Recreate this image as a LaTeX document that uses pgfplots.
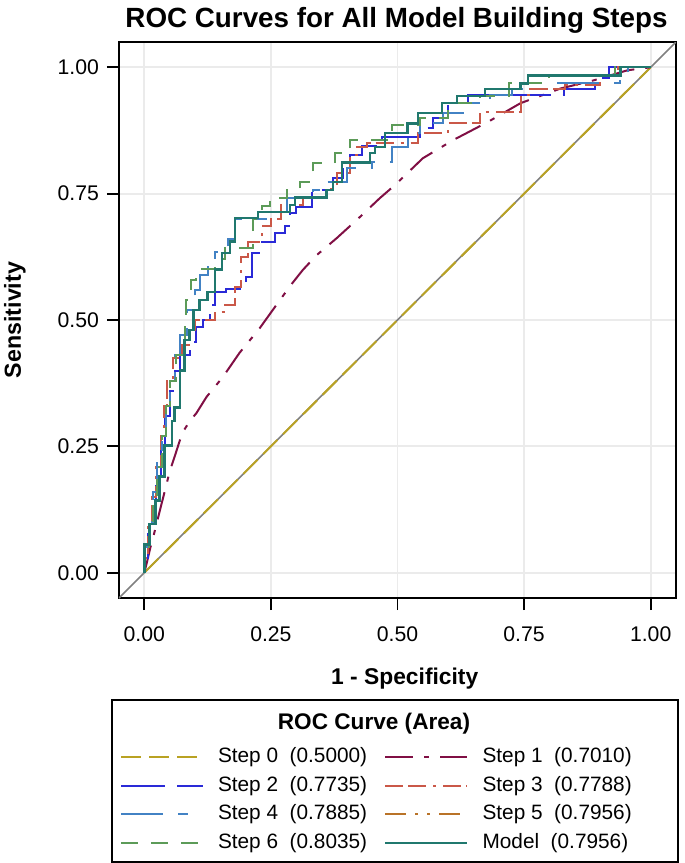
\documentclass[border=0pt]{standalone}
\usepackage{pgfplots}
\pgfplotsset{compat=1.18}
\usepackage{fontspec}
\setmainfont{Liberation Sans}
\definecolor{cS0}{RGB}{185,162,35}
\definecolor{cS1}{RGB}{128,15,68}
\definecolor{cS2}{RGB}{42,42,215}
\definecolor{cS3}{RGB}{202,88,72}
\definecolor{cS4}{RGB}{66,130,196}
\definecolor{cS5}{RGB}{185,115,40}
\definecolor{cS6}{RGB}{92,155,88}
\definecolor{cM}{RGB}{32,120,110}
\begin{document}
\begin{tikzpicture}
\useasboundingbox (-59.5pt,-132.5pt) rectangle (283pt,299pt);
\begin{axis}[
  at={(0,0)}, anchor=south west,
  scale only axis, width=278.5pt, height=278pt,
  xmin=-0.05, xmax=1.05, ymin=-0.05, ymax=1.05,
  xtick={0,0.25,0.5,0.75,1}, ytick={0,0.25,0.5,0.75,1},
  xticklabels={0.00,0.25,0.50,0.75,1.00}, yticklabels={0.00,0.25,0.50,0.75,1.00},
  tick pos=left, tick align=outside, major tick length=6pt,
  every tick/.style={black, line width=0.9pt},
  ticklabel style={font=\fontsize{10.6}{12}\selectfont},
  xticklabel style={yshift=-5pt},
  yticklabel style={xshift=-0.5pt},
  grid=major, major grid style={draw=black!8, line width=0.9pt},
  axis line style={line width=1pt},
  xlabel={1 - Specificity},
  ylabel={Sensitivity},
  every axis x label/.style={at={(axis description cs:0.513,-0.1547)}, anchor=base, font=\fontsize{11.4}{13}\selectfont\bfseries},
  every axis y label/.style={at={(axis description cs:-0.176,0.5)}, rotate=90, anchor=base, font=\fontsize{11.6}{13}\selectfont\bfseries},
  legend columns=2,
  legend cell align=left,
  legend style={at={(axis description cs:0.0018,-0.2687)}, anchor=north west, draw=none, fill=none,
    inner sep=0pt, outer sep=0pt, font=\fontsize{10.4}{12}\selectfont,
    row sep=4.83pt, column sep=7pt,
    /tikz/every even column/.append style={column sep=8.5pt},
    nodes={inner sep=0pt, text height=7.5pt, text depth=2pt}},
  legend image code/.code={\draw[#1] (0pt,0pt) -- (41pt,0pt);},
]
\addplot[forget plot, color=gray, line width=0.8pt] coordinates {(-0.05,-0.05) (1.05,1.05)};
% Step 0
\addplot[cS0, line width=1pt, dash pattern=on 10pt off 4pt] coordinates {(0,0) (1,1)};
\addlegendentry{Step 0~~(0.5000)}
% Step 1
\addplot[cS1, line width=1pt, dash pattern=on 14pt off 5.5pt on 2.5pt off 5.5pt] coordinates {
(0,0) (0.005,0.02) (0.012,0.05) (0.02,0.08) (0.03,0.12) (0.04,0.16) (0.05,0.2) (0.06,0.23) (0.075,0.277) (0.09,0.3) (0.103,0.316) (0.123,0.348) (0.155,0.387) (0.188,0.435) (0.228,0.484) (0.261,0.53) (0.29,0.57) (0.313,0.599) (0.34,0.628) (0.38,0.662) (0.426,0.704) (0.465,0.741) (0.495,0.767) (0.55,0.82) (0.61,0.856) (0.677,0.891) (0.743,0.929) (0.822,0.958) (0.887,0.974) (0.954,0.994) (1,1)};
\addlegendentry{Step 1~~(0.7010)}
% Step 2
\addplot[cS2, line width=1pt, dash pattern=on 22pt off 6pt] coordinates {
(0,0) (0,0.03) (0.008,0.03) (0.008,0.08) (0.016,0.08) (0.016,0.13) (0.024,0.13) (0.024,0.19) (0.032,0.19) (0.032,0.25) (0.04,0.25) (0.04,0.31) (0.05,0.31) (0.05,0.36) (0.06,0.36) (0.06,0.40) (0.07,0.40) (0.07,0.43) (0.09,0.43) (0.09,0.456) (0.103,0.456) (0.103,0.486) (0.115,0.486) (0.115,0.50) (0.129,0.50) (0.129,0.53) (0.139,0.53) (0.139,0.556) (0.162,0.556) (0.162,0.562) (0.188,0.562) (0.188,0.57) (0.2,0.57) (0.2,0.585) (0.212,0.585) (0.212,0.633) (0.232,0.633) (0.232,0.655) (0.258,0.655) (0.258,0.673) (0.278,0.673) (0.278,0.685) (0.288,0.685) (0.288,0.712) (0.3,0.712) (0.3,0.724) (0.331,0.724) (0.331,0.757) (0.373,0.757) (0.373,0.78) (0.393,0.78) (0.393,0.81) (0.406,0.81) (0.406,0.826) (0.43,0.826) (0.43,0.845) (0.47,0.845) (0.47,0.862) (0.545,0.862) (0.545,0.88) (0.57,0.88) (0.57,0.9) (0.6,0.9) (0.6,0.93) (0.64,0.93) (0.64,0.945) (0.828,0.945) (0.828,0.958) (0.89,0.958) (0.89,0.978) (0.917,0.978) (0.917,1) (1,1)};
\addlegendentry{Step 2~~(0.7735)}
% Step 3
\addplot[cS3, line width=1pt, dash pattern=on 9pt off 2.5pt on 9pt off 3.5pt on 1.5pt off 3.5pt] coordinates {
(0,0) (0,0.03) (0.008,0.03) (0.008,0.09) (0.016,0.09) (0.016,0.15) (0.024,0.15) (0.024,0.21) (0.032,0.21) (0.032,0.27) (0.038,0.27) (0.038,0.33) (0.045,0.33) (0.045,0.38) (0.056,0.38) (0.056,0.425) (0.075,0.425) (0.075,0.45) (0.09,0.45) (0.09,0.48) (0.1,0.48) (0.1,0.50) (0.139,0.50) (0.139,0.516) (0.16,0.516) (0.16,0.53) (0.18,0.53) (0.18,0.565) (0.19,0.565) (0.19,0.625) (0.205,0.625) (0.205,0.655) (0.232,0.655) (0.232,0.685) (0.25,0.685) (0.25,0.70) (0.27,0.70) (0.27,0.727) (0.313,0.727) (0.313,0.742) (0.36,0.742) (0.36,0.76) (0.38,0.76) (0.38,0.79) (0.406,0.79) (0.406,0.826) (0.42,0.826) (0.42,0.842) (0.44,0.842) (0.44,0.85) (0.54,0.85) (0.54,0.87) (0.6,0.87) (0.6,0.889) (0.663,0.889) (0.663,0.911) (0.743,0.911) (0.743,0.945) (0.762,0.945) (0.762,0.958) (0.83,0.958) (0.83,0.965) (0.9,0.965) (0.9,0.985) (0.935,0.985) (0.935,1) (1,1)};
\addlegendentry{Step 3~~(0.7788)}
% Step 4
\addplot[cS4, line width=1pt, dash pattern=on 21pt off 7.5pt on 5pt off 7.5pt] coordinates {
(0,0) (0,0.05) (0.01,0.05) (0.01,0.1) (0.018,0.1) (0.018,0.16) (0.026,0.16) (0.026,0.22) (0.034,0.22) (0.034,0.28) (0.042,0.28) (0.042,0.33) (0.05,0.33) (0.05,0.38) (0.06,0.38) (0.06,0.43) (0.07,0.43) (0.07,0.47) (0.085,0.47) (0.085,0.52) (0.1,0.52) (0.1,0.56) (0.11,0.56) (0.11,0.59) (0.125,0.59) (0.125,0.62) (0.14,0.62) (0.14,0.635) (0.165,0.635) (0.165,0.66) (0.18,0.66) (0.18,0.70) (0.25,0.70) (0.25,0.714) (0.282,0.714) (0.282,0.742) (0.333,0.742) (0.333,0.758) (0.357,0.758) (0.357,0.773) (0.4,0.773) (0.4,0.80) (0.45,0.80) (0.45,0.812) (0.49,0.812) (0.49,0.842) (0.52,0.842) (0.52,0.87) (0.545,0.87) (0.545,0.889) (0.59,0.889) (0.59,0.91) (0.64,0.91) (0.64,0.929) (0.683,0.929) (0.683,0.945) (0.727,0.945) (0.727,0.957) (0.76,0.957) (0.76,0.968) (0.94,0.968) (0.94,0.985) (0.955,0.985) (0.955,1) (1,1)};
\addlegendentry{Step 4~~(0.7885)}
% Step 5 (same as final model)
\addplot[cS5, line width=1pt, dash pattern=on 10.5pt off 4.5pt on 1.5pt off 4.5pt on 1.5pt off 4.5pt] coordinates {
(0,0) (0,0.056) (0.01,0.056) (0.01,0.097) (0.022,0.097) (0.022,0.143) (0.03,0.143) (0.03,0.19) (0.04,0.19) (0.04,0.252) (0.055,0.252) (0.055,0.30) (0.06,0.30) (0.06,0.327) (0.07,0.327) (0.07,0.40) (0.079,0.40) (0.079,0.46) (0.089,0.46) (0.089,0.48) (0.097,0.48) (0.097,0.52) (0.109,0.52) (0.109,0.54) (0.125,0.54) (0.125,0.555) (0.139,0.555) (0.139,0.60) (0.153,0.60) (0.153,0.633) (0.169,0.633) (0.169,0.655) (0.179,0.655) (0.179,0.702) (0.224,0.702) (0.224,0.714) (0.288,0.714) (0.288,0.728) (0.298,0.728) (0.298,0.742) (0.36,0.742) (0.36,0.757) (0.373,0.757) (0.373,0.773) (0.39,0.773) (0.39,0.812) (0.446,0.812) (0.446,0.83) (0.455,0.83) (0.455,0.842) (0.475,0.842) (0.475,0.87) (0.52,0.87) (0.52,0.889) (0.54,0.889) (0.54,0.909) (0.588,0.909) (0.588,0.929) (0.618,0.929) (0.618,0.943) (0.673,0.943) (0.673,0.957) (0.743,0.957) (0.743,0.968) (0.758,0.968) (0.758,0.984) (0.94,0.984) (0.94,1) (1,1)};
\addlegendentry{Step 5~~(0.7956)}
% Step 6
\addplot[cS6, line width=1pt, dash pattern=on 8.5pt off 6.5pt] coordinates {
(0,0) (0,0.04) (0.01,0.04) (0.01,0.09) (0.018,0.09) (0.018,0.15) (0.026,0.15) (0.026,0.21) (0.034,0.21) (0.034,0.27) (0.042,0.27) (0.042,0.33) (0.05,0.33) (0.05,0.38) (0.062,0.38) (0.062,0.43) (0.08,0.43) (0.08,0.50) (0.083,0.50) (0.083,0.54) (0.093,0.54) (0.093,0.58) (0.103,0.58) (0.103,0.60) (0.14,0.60) (0.14,0.62) (0.159,0.62) (0.159,0.643) (0.214,0.643) (0.214,0.70) (0.232,0.70) (0.232,0.725) (0.248,0.725) (0.248,0.742) (0.282,0.742) (0.282,0.758) (0.307,0.758) (0.307,0.774) (0.333,0.774) (0.333,0.81) (0.376,0.81) (0.376,0.83) (0.406,0.83) (0.406,0.857) (0.49,0.857) (0.49,0.885) (0.545,0.885) (0.545,0.9) (0.6,0.9) (0.6,0.929) (0.663,0.929) (0.663,0.943) (0.72,0.943) (0.72,0.968) (0.8,0.968) (0.8,0.984) (0.93,0.984) (0.93,1) (1,1)};
\addlegendentry{Step 6~~(0.8035)}
% Model
\addplot[cM, line width=1.2pt] coordinates {
(0,0) (0,0.056) (0.01,0.056) (0.01,0.097) (0.022,0.097) (0.022,0.143) (0.03,0.143) (0.03,0.19) (0.04,0.19) (0.04,0.252) (0.055,0.252) (0.055,0.30) (0.06,0.30) (0.06,0.327) (0.07,0.327) (0.07,0.40) (0.079,0.40) (0.079,0.46) (0.089,0.46) (0.089,0.48) (0.097,0.48) (0.097,0.52) (0.109,0.52) (0.109,0.54) (0.125,0.54) (0.125,0.555) (0.139,0.555) (0.139,0.60) (0.153,0.60) (0.153,0.633) (0.169,0.633) (0.169,0.655) (0.179,0.655) (0.179,0.702) (0.224,0.702) (0.224,0.714) (0.288,0.714) (0.288,0.728) (0.298,0.728) (0.298,0.742) (0.36,0.742) (0.36,0.757) (0.373,0.757) (0.373,0.773) (0.39,0.773) (0.39,0.812) (0.446,0.812) (0.446,0.83) (0.455,0.83) (0.455,0.842) (0.475,0.842) (0.475,0.87) (0.52,0.87) (0.52,0.889) (0.54,0.889) (0.54,0.909) (0.588,0.909) (0.588,0.929) (0.618,0.929) (0.618,0.943) (0.673,0.943) (0.673,0.957) (0.743,0.957) (0.743,0.968) (0.758,0.968) (0.758,0.984) (0.94,0.984) (0.94,1) (1,1)};
\addlegendentry{Model~~(0.7956)}
\end{axis}
\node[font=\fontsize{13.9}{16}\selectfont\bfseries, anchor=base] at (138.75pt,285pt) {ROC Curves for All Model Building Steps};
\draw[line width=1pt] (-3.5pt,-51pt) rectangle (279.5pt,-131.8pt);
\node[font=\fontsize{11.3}{13}\selectfont\bfseries, anchor=base] at (127.5pt,-65.5pt) {ROC Curve (Area)};
\end{tikzpicture}
\end{document}
